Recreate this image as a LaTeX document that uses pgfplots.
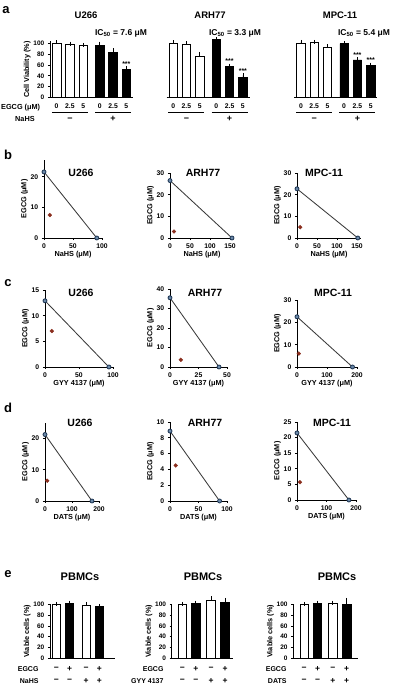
\documentclass[border=0pt]{standalone}
\usepackage{fontspec}
\setmainfont{Liberation Sans}
\usepackage{pgfplots}
\pgfplotsset{compat=1.18}
\definecolor{bluept}{HTML}{1C3452}
\definecolor{bluefill}{HTML}{6A88A8}
\definecolor{redpt}{HTML}{8A2E1E}
\definecolor{linegray}{HTML}{3A3A3A}
\newcommand{\fs}[1]{\fontsize{#1}{#1}\selectfont\bfseries}
\pgfplotsset{
  base/.style={scale only axis, clip=false, anchor=south west, enlargelimits=false,
    /pgf/number format/assume math mode=true,
    tick label style={font=\fs{6.8bp}},
    label style={font=\fs{7.3bp}},
    axis line style={line width=0.75bp,-},
    tick style={line width=0.75bp, black},
    major tick length=2.2bp, tick align=outside},
  iso/.style={base, axis lines*=left, axis line style={-}, xmin=0, ymin=0,
    ylabel={EGCG (μM)}, ylabel shift=-4bp, xlabel shift=-4bp},
  barA/.style={base, ymin=0, ymax=103, height=56.3bp, width=83bp, xmin=-0.5, xmax=5.75,
    tick label style={font=\fs{6.5bp}},
    xtick={0,1,2,3.25,4.25,5.25}, xticklabels={0,2.5,5,0,2.5,5}, xtick style={draw=none},
    xticklabel style={font=\fs{6.8bp}, yshift=-0.5bp}},
  barE/.style={base, ymin=0, ymax=100, height=54bp, axis lines*=left, axis line style={-},
    tick label style={font=\fs{6.5bp}},
    xtick=\empty, ytick={0,20,...,100}, ylabel={Viable cells (\%)}, ylabel shift=-4bp},
  wbar/.style={ybar, bar shift=0pt, bar width=8.5bp, fill=white, draw=black, line width=0.7bp,
    error bars/.cd, y dir=plus, y explicit, error bar style={line width=0.7bp, black},
    error mark options={line width=0.7bp, mark size=2bp, black}},
  bbar/.style={ybar, bar shift=0pt, bar width=8.5bp, fill=black, draw=black, line width=0.7bp,
    error bars/.cd, y dir=plus, y explicit, error bar style={line width=0.7bp, black},
    error mark options={line width=0.7bp, mark size=2bp, black}},
  isoline/.style={linegray, line width=0.85bp, mark=*, mark size=2bp,
    mark options={draw=bluept, fill=bluefill, line width=0.8bp}},
  isodot/.style={only marks, mark=*, mark size=1.9bp, color=redpt},
}
\newcommand{\grouplabels}{%
  \draw[line width=0.7bp] ([yshift=-14.6bp]axis cs:-0.35,0) -- ([yshift=-14.6bp]axis cs:2.35,0);
  \draw[line width=0.7bp] ([yshift=-14.6bp]axis cs:2.9,0) -- ([yshift=-14.6bp]axis cs:5.6,0);
  \node[font=\fs{9bp}] at ([yshift=-21.6bp]axis cs:1,0) {−};
  \node[font=\fs{9bp}] at ([yshift=-21.6bp]axis cs:4.25,0) {+};
}
\newcommand{\signsE}[2]{%
  \node[font=\fs{8.5bp}, inner sep=0pt] at ([yshift=-10.5bp]axis cs:0,0) {−};
  \node[font=\fs{8.5bp}, inner sep=0pt] at ([yshift=-10.5bp]axis cs:1,0) {+};
  \node[font=\fs{8.5bp}, inner sep=0pt] at ([yshift=-10.5bp]axis cs:#1,0) {−};
  \node[font=\fs{8.5bp}, inner sep=0pt] at ([yshift=-10.5bp]axis cs:#2,0) {+};
  \node[font=\fs{8.5bp}, inner sep=0pt] at ([yshift=-22.3bp]axis cs:0,0) {−};
  \node[font=\fs{8.5bp}, inner sep=0pt] at ([yshift=-22.3bp]axis cs:1,0) {−};
  \node[font=\fs{8.5bp}, inner sep=0pt] at ([yshift=-22.3bp]axis cs:#1,0) {+};
  \node[font=\fs{8.5bp}, inner sep=0pt] at ([yshift=-22.3bp]axis cs:#2,0) {+};
}
\begin{document}
\begin{tikzpicture}
\useasboundingbox (0,0) rectangle (394bp,685bp);

% ---------------- panel a ----------------
\begin{axis}[barA, at={(50bp,587.3bp)}, axis lines*=left, axis line style={-},
  ytick={0,20,...,100}, ylabel={Cell Viability (\%)}, ylabel shift=-4bp]
\addplot[wbar] coordinates {(0,100) +- (0,1) (1,98) +- (0,1) (2,96) +- (0,0.5)};
\addplot[bbar] coordinates {(3.25,95) +- (0,4) (4.25,83) +- (0,4) (5.25,52) +- (0,2)};
\node[font=\fs{7bp}, anchor=south, inner sep=1bp] at (axis cs:5.25,55) {***};
\grouplabels
\end{axis}

\begin{axis}[barA, at={(166.5bp,587.3bp)}, axis x line*=bottom, axis y line=none, axis line style={-}]
\addplot[wbar] coordinates {(0,100) +- (0,1) (1,98) +- (0,2) (2,75) +- (0,5)};
\addplot[bbar] coordinates {(3.25,106) +- (0,1) (4.25,57) +- (0,1.5) (5.25,37) +- (0,4)};
\node[font=\fs{7bp}, anchor=south, inner sep=1bp] at (axis cs:4.25,59.5) {***};
\node[font=\fs{7bp}, anchor=south, inner sep=1bp] at (axis cs:5.25,42) {***};
\grouplabels
\end{axis}

\begin{axis}[barA, at={(294.3bp,587.3bp)}, axis x line*=bottom, axis y line=none, axis line style={-}]
\addplot[wbar] coordinates {(0,100) +- (0,2) (1,101) +- (0,1) (2,93) +- (0,1)};
\addplot[bbar] coordinates {(3.25,99) +- (0,1) (4.25,69) +- (0,1.5) (5.25,59) +- (0,1.5)};
\node[font=\fs{7bp}, anchor=south, inner sep=1bp] at (axis cs:4.25,71.5) {***};
\node[font=\fs{7bp}, anchor=south, inner sep=1bp] at (axis cs:5.25,61.5) {***};
\grouplabels
\end{axis}

\node[font=\fs{13bp}] at (6bp,675bp) {a};
\node[font=\fs{9.5bp}] at (86bp,670bp) {U266};
\node[font=\fs{9.5bp}] at (210bp,670bp) {ARH77};
\node[font=\fs{9.5bp}] at (340bp,670bp) {MPC-11};
\node[font=\fs{8.5bp}] at (121bp,652bp) {IC\textsubscript{50} = 7.6 μM};
\node[font=\fs{8.5bp}] at (235bp,652bp) {IC\textsubscript{50} = 3.3 μM};
\node[font=\fs{8.5bp}] at (364bp,652bp) {IC\textsubscript{50} = 5.4 μM};
\node[font=\fs{7.3bp}, anchor=west, inner sep=0pt] at (1bp,577.7bp) {EGCG (μM)};
\node[font=\fs{7.3bp}, anchor=west, inner sep=0pt] at (15bp,565.7bp) {NaHS};

% ---------------- panel b ----------------
\begin{axis}[iso, at={(44bp,447bp)}, width=58bp, height=78bp, xmax=100, ymax=25.5,
  xtick={0,50,100}, ytick={0,10,20}, xlabel={NaHS (μM)}]
\addplot[isoline] coordinates {(0,21.6) (91,0)};
\addplot[isodot] coordinates {(10,7.5)};
\end{axis}
\begin{axis}[iso, at={(170bp,447bp)}, width=64bp, height=65bp, xmax=160, ymax=30,
  xtick={0,50,100,150}, ytick={0,10,20,30}, xlabel={NaHS (μM)}]
\addplot[isoline] coordinates {(0,26.5) (155,0)};
\addplot[isodot] coordinates {(10,3)};
\end{axis}
\begin{axis}[iso, at={(297bp,447bp)}, width=64bp, height=65bp, xmax=160, ymax=30,
  xtick={0,50,100,150}, ytick={0,10,20,30}, xlabel={NaHS (μM)}]
\addplot[isoline] coordinates {(0,22.7) (152,0)};
\addplot[isodot] coordinates {(8,5)};
\end{axis}
\node[font=\fs{13bp}] at (8bp,530bp) {b};
\node[font=\fs{10.5bp}] at (81bp,512bp) {U266};
\node[font=\fs{10.5bp}] at (203bp,512bp) {ARH77};
\node[font=\fs{10.5bp}] at (324bp,512bp) {MPC-11};

% ---------------- panel c ----------------
\begin{axis}[iso, at={(45bp,318bp)}, width=68bp, height=77bp, xmax=100, ymax=15,
  xtick={0,50,100}, ytick={0,5,10,15}, xlabel={GYY 4137 (μM)}]
\addplot[isoline] coordinates {(0,12.9) (94,0)};
\addplot[isodot] coordinates {(10,7)};
\end{axis}
\begin{axis}[iso, at={(170bp,318bp)}, width=57bp, height=78bp, xmax=50, ymax=40,
  xtick={0,25,50}, ytick={0,10,20,30,40}, xlabel={GYY 4137 (μM)}]
\addplot[isoline] coordinates {(0,35.5) (43,0)};
\addplot[isodot] coordinates {(9.5,3.7)};
\end{axis}
\begin{axis}[iso, at={(297bp,318bp)}, width=60bp, height=67bp, xmax=200, ymax=30,
  xtick={0,100,200}, ytick={0,10,20,30}, xlabel={GYY 4137 (μM)}]
\addplot[isoline] coordinates {(0,22.5) (185,0)};
\addplot[isodot] coordinates {(6,6)};
\end{axis}
\node[font=\fs{13bp}] at (8bp,402bp) {c};
\node[font=\fs{10.5bp}] at (81bp,392bp) {U266};
\node[font=\fs{10.5bp}] at (205bp,392bp) {ARH77};
\node[font=\fs{10.5bp}] at (333bp,392bp) {MPC-11};

% ---------------- panel d ----------------
\begin{axis}[iso, at={(45bp,184bp)}, width=54bp, height=78bp, xmax=200, ymax=25,
  xtick={0,100,200}, ytick={0,10,20}, xlabel={DATS (μM)}]
\addplot[isoline] coordinates {(0,21.3) (174,0)};
\addplot[isodot] coordinates {(8,6.5)};
\end{axis}
\begin{axis}[iso, at={(170bp,184bp)}, width=57bp, height=79bp, xmax=100, ymax=10,
  xtick={0,50,100}, ytick={0,2,...,10}, xlabel={DATS (μM)}]
\addplot[isoline] coordinates {(0,8.85) (87,0)};
\addplot[isodot] coordinates {(10,4.5)};
\end{axis}
\begin{axis}[iso, at={(297bp,185bp)}, width=59bp, height=78bp, xmax=200, ymax=25,
  xtick={0,100,200}, ytick={0,5,...,25}, xlabel={DATS (μM)}]
\addplot[isoline] coordinates {(0,21.5) (176,0)};
\addplot[isodot] coordinates {(10,5.7)};
\end{axis}
\node[font=\fs{13bp}] at (8bp,277bp) {d};
\node[font=\fs{10.5bp}] at (80bp,262bp) {U266};
\node[font=\fs{10.5bp}] at (205bp,262bp) {ARH77};
\node[font=\fs{10.5bp}] at (332bp,262bp) {MPC-11};

% ---------------- panel e ----------------
\begin{axis}[barE, at={(50bp,26.7bp)}, width=65bp, xmin=-0.47, xmax=4.42]
\addplot[wbar] coordinates {(0,100) +- (0,1) (2.25,98) +- (0,3)};
\addplot[bbar] coordinates {(1,101) +- (0,2) (3.25,96) +- (0,1)};
\signsE{2.25}{3.25}
\end{axis}
\begin{axis}[barE, at={(171.7bp,26.7bp)}, width=61.6bp, xmin=-0.81, xmax=3.82]
\addplot[wbar] coordinates {(0,100) +- (0,1) (2.15,108) +- (0,3)};
\addplot[bbar] coordinates {(1,101) +- (0,2) (3.2,103) +- (0,5)};
\signsE{2.15}{3.2}
\end{axis}
\begin{axis}[barE, at={(293.3bp,26.7bp)}, width=64.7bp, xmin=-0.82, xmax=4.05]
\addplot[wbar] coordinates {(0,100) +- (0,1) (2.15,101) +- (0,2)};
\addplot[bbar] coordinates {(1,101) +- (0,2) (3.2,100) +- (0,8)};
\signsE{2.15}{3.2}
\end{axis}
\node[font=\fs{13bp}] at (8bp,111bp) {e};
\node[font=\fs{11bp}] at (80bp,108bp) {PBMCs};
\node[font=\fs{11bp}] at (203bp,108bp) {PBMCs};
\node[font=\fs{11bp}] at (337bp,108bp) {PBMCs};
\node[font=\fs{7bp}, anchor=east] at (42bp,16.2bp) {EGCG};
\node[font=\fs{7bp}, anchor=east] at (42bp,4.4bp) {NaHS};
\node[font=\fs{7bp}, anchor=east] at (167bp,16.2bp) {EGCG};
\node[font=\fs{7bp}, anchor=east] at (167bp,4.4bp) {GYY 4137};
\node[font=\fs{7bp}, anchor=east] at (290bp,16.2bp) {EGCG};
\node[font=\fs{7bp}, anchor=east] at (290bp,4.4bp) {DATS};
\end{tikzpicture}
\end{document}
